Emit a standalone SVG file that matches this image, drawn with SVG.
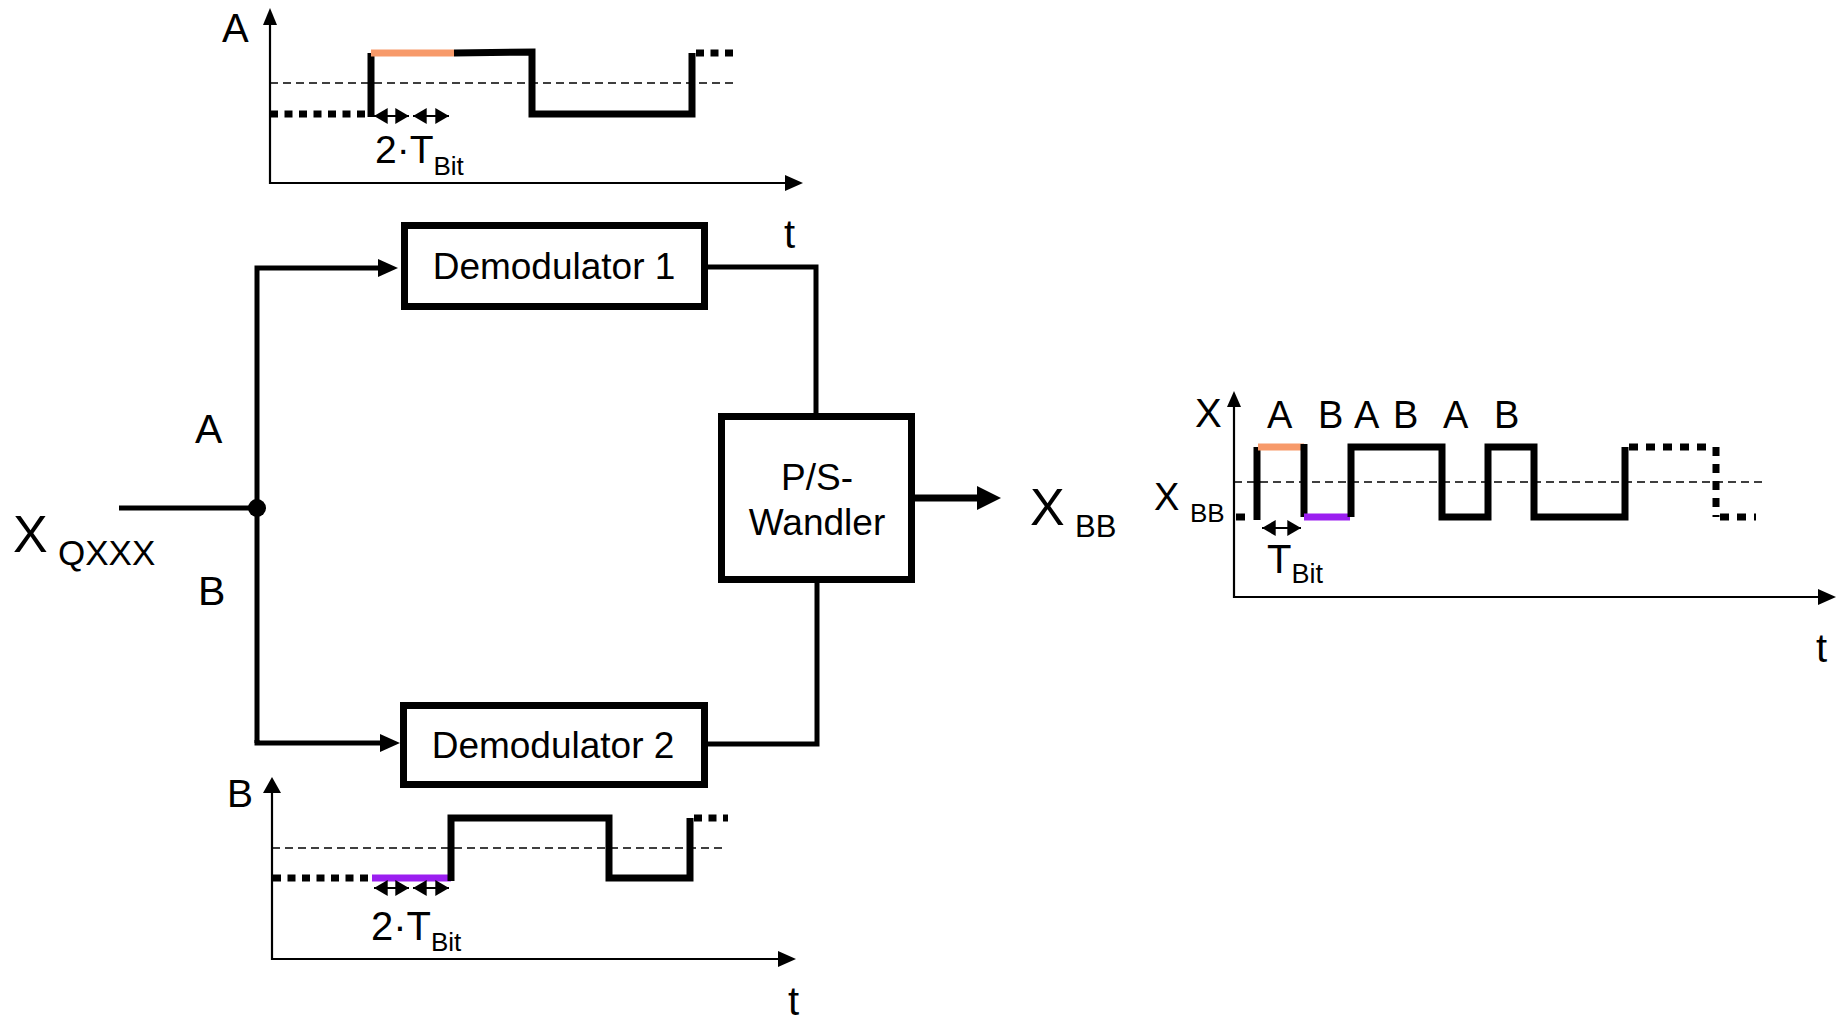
<svg xmlns="http://www.w3.org/2000/svg" width="1843" height="1022" viewBox="0 0 1843 1022">
<style>
text{font-family:"Liberation Sans",Arial,sans-serif;fill:#000}
.box{fill:#fff;stroke:#000;stroke-width:7}
.wire{fill:none;stroke:#000;stroke-width:5}
.axis{fill:none;stroke:#000;stroke-width:2.2}
.ref{fill:none;stroke:#000;stroke-width:1.5;stroke-dasharray:8 5}
.sig{fill:none;stroke:#000;stroke-width:7;stroke-linejoin:miter}
.dots{fill:none;stroke:#000;stroke-width:7;stroke-dasharray:8 6.5}
.dots2{fill:none;stroke:#000;stroke-width:7;stroke-dasharray:9 8}
.orange{fill:none;stroke:#F79A6A;stroke-width:7}
.purple{fill:none;stroke:#9B1FF0;stroke-width:7}
.dim{fill:none;stroke:#000;stroke-width:2;marker-start:url(#dbl);marker-end:url(#dbl)}
</style>
<defs>
<marker id="dbl" markerUnits="userSpaceOnUse" markerWidth="14" markerHeight="16" refX="12" refY="7" orient="auto-start-reverse" viewBox="0 0 12 14">
<path d="M0,0 L12,7 L0,14 Z" fill="#000"/>
</marker>
</defs>

<!-- Chart A (top) -->
<g id="chartA">
<text x="222" y="42" font-size="40">A</text>
<line class="axis" x1="270" y1="184" x2="270" y2="24"/>
<polygon points="270,8 263,25 277,25"/>
<line class="axis" x1="269" y1="183" x2="787" y2="183"/>
<polygon points="803,183 785,175 785,191"/>
<line class="ref" x1="270" y1="83" x2="734" y2="83"/>
<line class="dots" x1="270" y1="114" x2="368" y2="114"/>
<path class="sig" d="M371,117 V53"/>
<line class="orange" x1="371" y1="53" x2="454" y2="53"/>
<path class="sig" d="M454,53 L532,52 V114 H692 V53"/>
<line class="dots" x1="696" y1="53" x2="734" y2="53"/>
<line class="dim" x1="374" y1="116" x2="409" y2="116"/>
<line class="dim" x1="413" y1="116" x2="449" y2="116"/>
<text x="375" y="163" font-size="39">2·T<tspan dy="12" font-size="26">Bit</tspan></text>
<text x="784" y="248" font-size="40">t</text>
</g>

<!-- Chart B (bottom) -->
<g id="chartB">
<text x="227" y="807" font-size="39">B</text>
<line class="axis" x1="272" y1="960" x2="272" y2="792"/>
<polygon points="272,777 263,793 281,793"/>
<line class="axis" x1="271" y1="959" x2="780" y2="959"/>
<polygon points="796,959 778,951 778,967"/>
<line class="ref" x1="272" y1="848" x2="724" y2="848"/>
<line class="dots" x1="273" y1="878" x2="368" y2="878"/>
<line class="purple" x1="372" y1="878" x2="451" y2="878"/>
<path class="sig" d="M451,881 V818 H609 V878 H690 V818"/>
<line class="dots" x1="694" y1="818" x2="728" y2="818"/>
<line class="dim" x1="374" y1="888" x2="409" y2="888"/>
<line class="dim" x1="413" y1="888" x2="449" y2="888"/>
<text x="371" y="940" font-size="40">2·T<tspan dy="11" font-size="26">Bit</tspan></text>
<text x="788" y="1015" font-size="40">t</text>
</g>

<!-- Chart X (right) -->
<g id="chartX">
<text x="1195" y="427" font-size="40">X</text>
<text x="1154" y="510" font-size="38">X<tspan x="1190" y="522" font-size="26">BB</tspan></text>
<line class="axis" x1="1234" y1="598" x2="1234" y2="406"/>
<polygon points="1234,391 1227,407 1241,407"/>
<line class="axis" x1="1233" y1="597" x2="1820" y2="597"/>
<polygon points="1836,597 1818,589 1818,605"/>
<g font-size="38">
<text x="1267" y="428">A</text>
<text x="1318" y="428">B</text>
<text x="1354" y="428">A</text>
<text x="1393" y="428">B</text>
<text x="1443" y="428">A</text>
<text x="1494" y="428">B</text>
</g>
<line class="ref" x1="1234" y1="482" x2="1762" y2="482"/>
<line class="dots2" x1="1236" y1="517" x2="1245" y2="517"/>
<path class="sig" d="M1257,520 V447"/>
<line class="orange" x1="1258" y1="447" x2="1304" y2="447"/>
<path class="sig" d="M1304,444 V517"/>
<line class="purple" x1="1304" y1="517" x2="1350" y2="517"/>
<path class="sig" d="M1351,517 V447 H1442 V517 H1488 V447 H1534 V517 H1625 V447"/>
<line class="dots2" x1="1629" y1="447" x2="1712" y2="447"/>
<line class="dots2" x1="1716" y1="447" x2="1716" y2="517"/>
<line class="dots2" x1="1720" y1="517" x2="1756" y2="517"/>
<line class="dim" x1="1262" y1="528" x2="1301" y2="528"/>
<text x="1267" y="573" font-size="40">T<tspan dy="10" font-size="27">Bit</tspan></text>
<text x="1816" y="662" font-size="40">t</text>
</g>

<!-- Connectors -->
<g id="connectors">
<path class="wire" d="M119,508 H257"/>
<circle cx="257" cy="508" r="9"/>
<path class="wire" d="M257,743 V268 H380"/>
<polygon points="398,268 378,259 378,277"/>
<path class="wire" d="M257,740 V743 H380"/>
<polygon points="400,743 380,734 380,752"/>
<path class="wire" d="M708,267 H816 V416"/>
<path class="wire" d="M708,744 H817 V580"/>
<path class="wire" d="M915,498 H980" style="stroke-width:7"/>
<polygon points="1001,498 977,486 977,510"/>
</g>

<!-- Nodes -->
<g id="demod1">
<rect class="box" x="404.5" y="225.5" width="300" height="81"/>
<text x="554" y="279" font-size="37" text-anchor="middle">Demodulator 1</text>
</g>
<g id="demod2">
<rect class="box" x="403.5" y="705.5" width="301" height="79"/>
<text x="553" y="758" font-size="37" text-anchor="middle">Demodulator 2</text>
</g>
<g id="ps">
<rect class="box" x="721.5" y="416.5" width="190" height="163"/>
<text x="817" y="490" font-size="37" text-anchor="middle">P/S-</text>
<text x="817" y="535" font-size="37" text-anchor="middle">Wandler</text>
</g>

<!-- Labels -->
<g id="labels">
<text x="13" y="552" font-size="52">X<tspan x="58" y="565" font-size="35">QXXX</tspan></text>
<text x="195" y="443" font-size="41">A</text>
<text x="198" y="605" font-size="41">B</text>
<text x="1030" y="525" font-size="52">X<tspan x="1075" y="537" font-size="31">BB</tspan></text>
</g>
</svg>
